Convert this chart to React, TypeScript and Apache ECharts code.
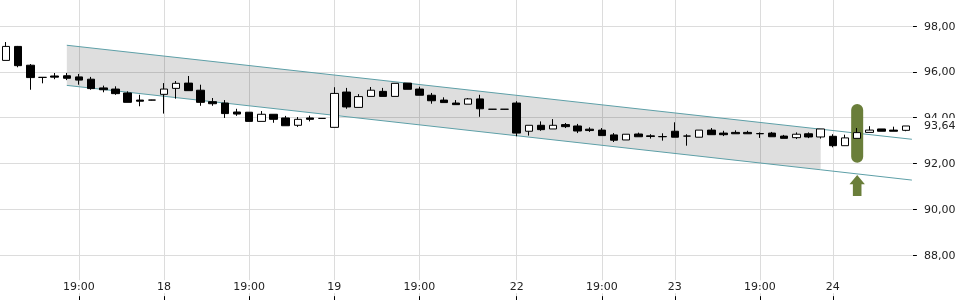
import React, { useEffect, useRef } from 'react';
import * as echarts from 'echarts';

// [open, close, low, high]
const candles: number[][] = [
  [96.50, 97.11, 96.50, 97.30],
  [97.11, 96.27, 96.20, 97.13],
  [96.29, 95.75, 95.22, 96.34],
  [95.76, 95.76, 95.50, 95.76],
  [95.82, 95.77, 95.68, 95.95],
  [95.83, 95.72, 95.64, 95.95],
  [95.78, 95.64, 95.44, 95.91],
  [95.68, 95.27, 95.22, 95.78],
  [95.30, 95.22, 95.11, 95.40],
  [95.25, 95.05, 95.00, 95.37],
  [95.08, 94.67, 94.67, 95.15],
  [94.77, 94.72, 94.50, 95.00],
  [94.77, 94.77, 94.76, 94.78],
  [95.02, 95.25, 94.18, 95.51],
  [95.28, 95.50, 94.83, 95.60],
  [95.51, 95.18, 95.18, 95.82],
  [95.20, 94.67, 94.52, 95.44],
  [94.70, 94.61, 94.52, 94.86],
  [94.64, 94.18, 93.99, 94.77],
  [94.25, 94.16, 94.08, 94.39],
  [94.24, 93.84, 93.84, 94.24],
  [93.84, 94.15, 93.84, 94.29],
  [94.15, 93.93, 93.78, 94.15],
  [93.99, 93.65, 93.65, 94.08],
  [93.67, 93.93, 93.60, 94.03],
  [93.99, 93.93, 93.84, 94.09],
  [93.97, 93.97, 93.96, 93.98],
  [93.58, 95.06, 93.58, 95.33],
  [95.12, 94.47, 94.39, 95.30],
  [94.45, 94.92, 94.45, 95.03],
  [94.93, 95.20, 94.93, 95.34],
  [95.15, 94.93, 94.93, 95.30],
  [94.93, 95.50, 94.93, 95.50],
  [95.51, 95.24, 95.24, 95.51],
  [95.25, 94.98, 94.98, 95.35],
  [94.98, 94.74, 94.61, 95.08],
  [94.77, 94.66, 94.66, 94.89],
  [94.64, 94.57, 94.57, 94.77],
  [94.59, 94.82, 94.59, 94.86],
  [94.82, 94.39, 94.04, 95.00],
  [94.37, 94.37, 94.36, 94.38],
  [94.37, 94.37, 94.36, 94.38],
  [94.64, 93.33, 93.19, 94.72],
  [93.41, 93.67, 93.22, 93.67],
  [93.67, 93.48, 93.43, 93.84],
  [93.51, 93.67, 93.51, 93.94],
  [93.70, 93.61, 93.55, 93.77],
  [93.64, 93.42, 93.33, 93.73],
  [93.50, 93.44, 93.38, 93.58],
  [93.46, 93.22, 93.22, 93.55],
  [93.25, 93.02, 92.94, 93.33],
  [93.03, 93.28, 93.03, 93.28],
  [93.29, 93.17, 93.17, 93.35],
  [93.21, 93.18, 93.09, 93.28],
  [93.18, 93.17, 93.00, 93.32],
  [93.41, 93.15, 93.15, 93.80],
  [93.20, 93.20, 92.78, 93.28],
  [93.15, 93.46, 93.15, 93.46],
  [93.46, 93.26, 93.26, 93.55],
  [93.33, 93.26, 93.20, 93.43],
  [93.36, 93.30, 93.30, 93.45],
  [93.36, 93.30, 93.30, 93.43],
  [93.31, 93.30, 93.12, 93.36],
  [93.33, 93.17, 93.17, 93.38],
  [93.20, 93.10, 93.10, 93.25],
  [93.13, 93.28, 93.07, 93.36],
  [93.30, 93.16, 93.11, 93.36],
  [93.16, 93.51, 93.09, 93.51],
  [93.19, 92.78, 92.71, 93.28],
  [92.78, 93.12, 92.78, 93.26],
  [93.10, 93.35, 93.10, 93.55],
  [93.36, 93.46, 93.36, 93.63],
  [93.51, 93.41, 93.41, 93.51],
  [93.46, 93.41, 93.41, 93.61],
  [93.45, 93.64, 93.41, 93.64],
];

// x-axis labels (candle index -> label)
const tickIndex = [-1, 6, 13, 20, 27, 34, 42, 49, 55, 62, 68];
const tickLabels = ['17', '19:00', '18', '19:00', '19', '19:00', '22', '19:00', '23', '19:00', '24'];

// trend channel (candle index, price)
const channelX = [5, 67, 74.5];
const channelUpper = [97.16, 93.5, 93.06];
const channelLower = [95.41, 91.73, 91.28];

const lastPrice = 93.64;

// signal marker
const signalIndex = 70;
const signalRange = [92.04, 94.6];
const arrowLevels = [90.59, 91.1, 91.5]; // tail, head base, tip

const yMin = 86;
const yMax = 100;
const yStep = 2;

const OFFSET = 1; // leading category carrying the "17" label
const categories = Array.from({ length: candles.length + OFFSET }, (_, k) => {
  const j = tickIndex.indexOf(k - OFFSET);
  return j >= 0 ? tickLabels[j] : '';
});
const isTick = (k: number) => tickIndex.includes(k - OFFSET);
const fmt = (v: number) => v.toFixed(2).replace('.', ',');

const GREEN = '#6a7e3a';
const TEAL = '#5d9fa7';
const GRID = '#dcdcdc';

export default function App() {
  const ref = useRef<HTMLDivElement>(null);
  useEffect(() => {
    if (!ref.current) return;
    const chart = echarts.init(ref.current, undefined, { renderer: 'svg' });
    const option: any = {
      animation: false,
      textStyle: { fontFamily: 'DejaVu Sans' },
      grid: {
        left: -12.24,
        right: 48.1,
        top: -19.86,
        bottom: -1.16,
        containLabel: false,
        outerBoundsMode: 'none',
      },
      xAxis: [
        {
          type: 'category',
          data: categories,
          boundaryGap: true,
          axisLine: { show: false },
          axisTick: {
            show: true,
            alignWithLabel: true,
            inside: true,
            length: 5,
            interval: (i: number) => isTick(i),
            lineStyle: { color: '#000' },
          },
          axisLabel: {
            interval: (i: number) => isTick(i),
            inside: true,
            margin: 8,
            fontSize: 11,
            color: '#222',
            backgroundColor: '#fff',
            padding: [1, 1],
          },
          splitLine: {
            show: true,
            alignWithLabel: true,
            interval: (i: number) => isTick(i),
            lineStyle: { color: GRID, width: 1 },
          },
        },
        { type: 'value', min: -1.5, max: candles.length - 0.5, show: false },
      ],
      yAxis: {
        type: 'value',
        position: 'right',
        min: yMin,
        max: yMax,
        interval: yStep,
        offset: 1,
        axisLine: { show: false, onZero: false },
        axisTick: { show: true, length: 4, lineStyle: { color: '#000' } },
        axisLabel: {
          margin: 11,
          fontSize: 11,
          color: '#222',
          formatter: fmt,
          showMinLabel: false,
          showMaxLabel: false,
        },
        splitLine: { lineStyle: { color: GRID, width: 1 } },
      },
      series: [
        {
          type: 'custom',
          xAxisIndex: 1,
          silent: true,
          z: 1,
          data: [[channelX[0], channelX[1], channelLower[0], channelUpper[0], channelLower[1], channelUpper[1]]],
          encode: { x: [0, 1], y: [2, 3, 4, 5] },
          renderItem: (params: any, api: any) => {
            const a = api.coord([api.value(0), api.value(2)]);
            const b = api.coord([api.value(0), api.value(3)]);
            const c = api.coord([api.value(1), api.value(5)]);
            const d = api.coord([api.value(1), api.value(4)]);
            return {
              type: 'polygon',
              shape: { points: [a, b, c, d] },
              style: { fill: 'rgba(0,0,0,0.13)' },
            };
          },
        },
        {
          type: 'line',
          xAxisIndex: 1,
          symbol: 'none',
          silent: true,
          lineStyle: { color: TEAL, width: 1 },
          data: channelX.map((x, j) => [x, channelUpper[j]]),
          z: 2,
        },
        {
          type: 'line',
          xAxisIndex: 1,
          symbol: 'none',
          silent: true,
          lineStyle: { color: TEAL, width: 1 },
          data: channelX.map((x, j) => [x, channelLower[j]]),
          z: 2,
        },
        {
          type: 'custom',
          xAxisIndex: 1,
          silent: true,
          z: 3,
          data: [[signalIndex, signalRange[0], signalRange[1], arrowLevels[0], arrowLevels[1], arrowLevels[2]]],
          encode: { x: 0, y: [1, 2] },
          renderItem: (params: any, api: any) => {
            const x = api.value(0);
            const top = api.coord([x, api.value(2)]);
            const bot = api.coord([x, api.value(1)]);
            const tail = api.coord([x, api.value(3)]);
            const base = api.coord([x, api.value(4)]);
            const tip = api.coord([x, api.value(5)]);
            const cx = top[0];
            return {
              type: 'group',
              children: [
                {
                  type: 'rect',
                  shape: { x: cx - 6, y: top[1], width: 12, height: bot[1] - top[1], r: 6 },
                  style: { fill: GREEN },
                },
                {
                  type: 'polygon',
                  shape: {
                    points: [
                      [cx, tip[1]],
                      [cx + 7.7, base[1]],
                      [cx + 4.3, base[1]],
                      [cx + 4.3, tail[1]],
                      [cx - 4.3, tail[1]],
                      [cx - 4.3, base[1]],
                      [cx - 7.7, base[1]],
                    ],
                  },
                  style: { fill: GREEN },
                },
              ],
            };
          },
        },
        {
          type: 'candlestick',
          xAxisIndex: 0,
          barWidth: 8,
          z: 5,
          clip: false,
          encode: { x: 0, y: [1, 2, 3, 4] },
          data: candles.map((c, i) => [i + OFFSET, c[0], c[1], c[2], c[3]]),
          itemStyle: {
            color: '#fff',
            color0: '#000',
            borderColor: '#000',
            borderColor0: '#000',
            borderColorDoji: '#000',
            borderWidth: 1,
          },
          markLine: {
            silent: true,
            symbol: ['none', 'none'],
            lineStyle: { color: 'rgba(0,0,0,0)', width: 0 },
            label: {
              show: true,
              position: 'end',
              distance: 10,
              formatter: fmt(lastPrice),
              color: '#222',
              opacity: 1,
              fontSize: 11,
              backgroundColor: '#fff',
              padding: [3, 3, 2, 2],
            },
            emphasis: { disabled: true },
            data: [{ yAxis: lastPrice }],
          },
        },
      ],
    };
    chart.setOption(option);
    return () => chart.dispose();
  }, []);
  return <div ref={ref} style={{ position: 'fixed', left: 0, top: 0, width: 960, height: 300 }} />;
}
